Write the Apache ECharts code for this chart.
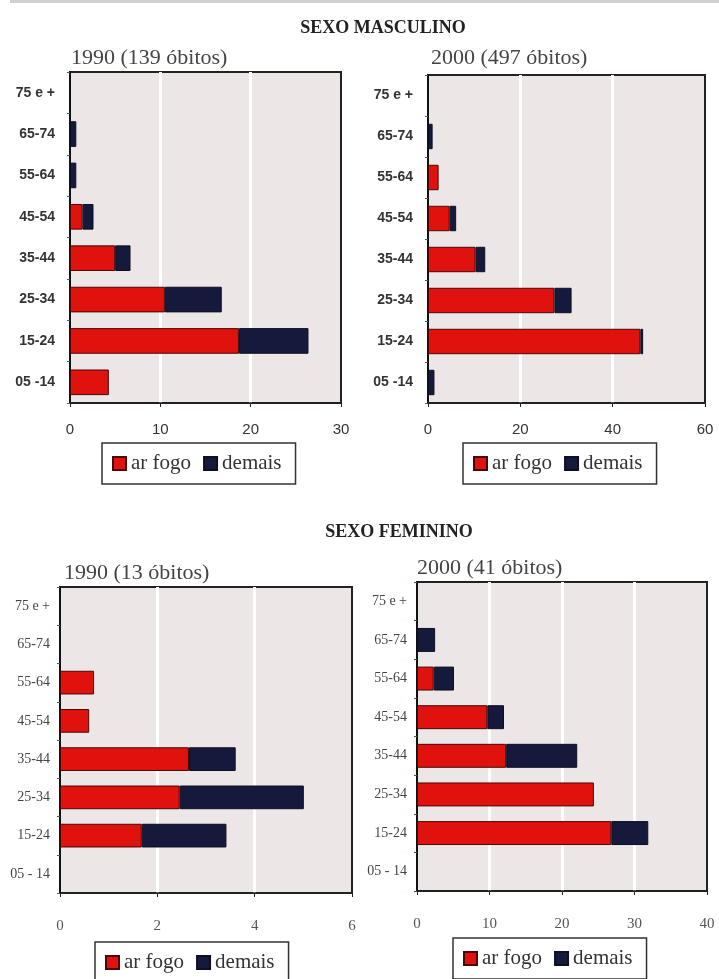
<!DOCTYPE html>
<html>
<head>
<meta charset="utf-8">
<script src="https://cdn.jsdelivr.net/npm/echarts@6/dist/echarts.min.js"></script>
<style>
html,body{margin:0;padding:0;background:#fff;}
#c{width:719px;height:979px;}
</style>
</head>
<body>
<div id="c"></div>
<script>
// ---- data ----
var agesSans = ['75 e +','65-74','55-64','45-54','35-44','25-34','15-24','05 -14'];
var agesSerif = ['75 e +','65-74','55-64','45-54','35-44','25-34','15-24','05 - 14'];

var m1990ArFogo = [0, 0, 0, 1.4, 5.0, 10.5, 18.7, 4.3];
var m1990Demais = [0, 0.7, 0.7, 1.2, 1.7, 6.3, 7.7, 0];

var m2000ArFogo = [0, 0, 2.3, 4.7, 10.3, 27.4, 46.0, 0];
var m2000Demais = [0, 1.0, 0, 1.4, 2.1, 3.7, 0.6, 1.4];

var f1990ArFogo = [0, 0, 0.70, 0.60, 2.65, 2.46, 1.68, 0];
var f1990Demais = [0, 0, 0, 0, 0.96, 2.55, 1.74, 0];

var f2000ArFogo = [0, 0, 2.3, 9.7, 12.3, 24.4, 26.8, 0];
var f2000Demais = [0, 2.5, 2.8, 2.3, 9.8, 0, 5.1, 0];

var xMax = [30, 60, 6, 40];
var xStep = [10, 20, 2, 10];

var panelTitles = ['1990 (139 óbitos)', '2000 (497 óbitos)', '1990 (13 óbitos)', '2000 (41 óbitos)'];
var sectionTitles = ['SEXO MASCULINO', 'SEXO FEMININO'];
var seriesNames = ['ar fogo', 'demais'];

// ---- chart ----
var RED = '#e0120e', NAVY = '#151a3c';
var serif = 'Liberation Serif, serif';
var sans = 'Liberation Sans, Arial, sans-serif';

var grids = [
  {left: 70, top: 72, width: 271, height: 331},
  {left: 428, top: 75, width: 277, height: 328},
  {left: 60, top: 587, width: 292, height: 306},
  {left: 417, top: 582, width: 290, height: 309}
];
var isSans = [true, true, false, false];
var labelSets = [agesSans, agesSans, agesSerif, agesSerif];
var arFogo = [m1990ArFogo, m2000ArFogo, f1990ArFogo, f2000ArFogo];
var demais = [m1990Demais, m2000Demais, f1990Demais, f2000Demais];

function nz(a){ return a.map(function(v){ return v === 0 ? null : v; }); }

var option = {
  backgroundColor: '#fff',
  animation: false,
  graphic: [{type:'rect', shape:{x:10, y:0, width:709, height:3}, style:{fill:'#d0d0d0'}}],
  title: [
    {text: sectionTitles[0], left: 378, top: 14, textAlign: 'center', textStyle:{fontFamily: serif, fontWeight:'bold', fontSize:18, color:'#222'}},
    {text: sectionTitles[1], left: 394, top: 518, textAlign: 'center', textStyle:{fontFamily: serif, fontWeight:'bold', fontSize:18, color:'#222'}},
    {text: panelTitles[0], left: 66, top: 42, textStyle:{fontFamily: serif, fontWeight:'normal', fontSize:22, color:'#444'}},
    {text: panelTitles[1], left: 426, top: 42, textStyle:{fontFamily: serif, fontWeight:'normal', fontSize:22, color:'#444'}},
    {text: panelTitles[2], left: 59, top: 557, textStyle:{fontFamily: serif, fontWeight:'normal', fontSize:22, color:'#444'}},
    {text: panelTitles[3], left: 412, top: 552, textStyle:{fontFamily: serif, fontWeight:'normal', fontSize:22, color:'#444'}}
  ],
  legend: [
    {left: 102, top: 443},
    {left: 463, top: 443},
    {left: 95, top: 942},
    {left: 453, top: 938}
  ].map(function(p){
    return {
      left: p.left, top: p.top, data: seriesNames, icon: 'rect', selectedMode: false,
      itemWidth: 13, itemHeight: 13, itemGap: 12, padding: [10, 14, 10, 10],
      borderColor: '#333', borderWidth: 1.5, backgroundColor: '#fff',
      textStyle: {fontFamily: serif, fontSize: 21, color: '#333'}
    };
  }),
  grid: grids.map(function(g){
    return {left: g.left, top: g.top, width: g.width, height: g.height, show: true,
      backgroundColor: '#ede6e6', borderColor: '#222', borderWidth: 2, containLabel: false};
  }),
  xAxis: grids.map(function(g, i){
    return {
      type: 'value', gridIndex: i, min: 0, max: xMax[i], interval: xStep[i],
      axisLine: {show: true, lineStyle: {color: '#222', width: 1.5}},
      axisTick: {show: true, length: 4, lineStyle: {color: '#222'}},
      splitLine: {show: true, showMinLine: false, showMaxLine: false, lineStyle: {color: '#ffffff', width: 3}},
      axisLabel: isSans[i]
        ? {fontFamily: sans, fontSize: 15, color: '#333', margin: 19}
        : {fontFamily: serif, fontSize: 15, color: '#555', margin: 26}
    };
  }),
  yAxis: grids.map(function(g, i){
    return {
      type: 'category', gridIndex: i, inverse: true, data: labelSets[i],
      axisLine: {show: true, lineStyle: {color: '#111', width: 2}},
      axisTick: {show: true, length: 3, lineStyle: {color: '#2a6a6a'}},
      splitLine: {show: false},
      axisLabel: isSans[i]
        ? {fontFamily: sans, fontWeight: 'bold', fontSize: 14, color: '#333', margin: 15}
        : {fontFamily: serif, fontSize: 14, color: '#444', margin: 10}
    };
  }),
  series: []
};

for (var i = 0; i < 4; i++) {
  option.series.push({
    name: seriesNames[0], type: 'bar', stack: 's' + i, xAxisIndex: i, yAxisIndex: i,
    data: nz(arFogo[i]), barWidth: '62%',
    itemStyle: {color: RED, borderColor: '#4a0808', borderWidth: 1}
  });
  option.series.push({
    name: seriesNames[1], type: 'bar', stack: 's' + i, xAxisIndex: i, yAxisIndex: i,
    data: nz(demais[i]), barWidth: '62%',
    itemStyle: {color: NAVY, borderColor: '#0c0f22', borderWidth: 1}
  });
}

var chart = echarts.init(document.getElementById('c'), null, {renderer: 'canvas'});
chart.setOption(option);
</script>
</body>
</html>
